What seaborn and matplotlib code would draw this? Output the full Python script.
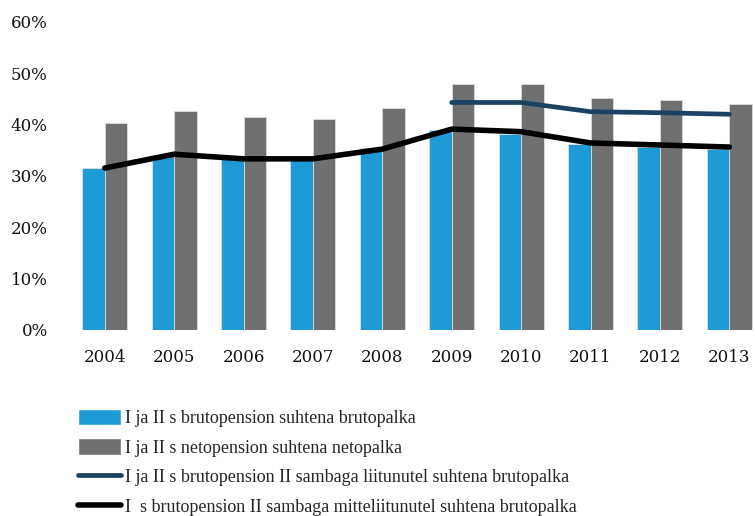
# Pension replacement rates 2004-2013 (bars + lines)

import numpy as np
import pandas as pd
import matplotlib
matplotlib.use("Agg")
import matplotlib.pyplot as plt
import seaborn as sns
from matplotlib.patches import Patch
from matplotlib.lines import Line2D
from matplotlib.ticker import FuncFormatter

# ---------- data ----------
years = ["2004", "2005", "2006", "2007", "2008", "2009", "2010", "2011", "2012", "2013"]
bruto = [31.6, 33.8, 33.2, 33.2, 35.4, 38.9, 38.2, 36.2, 35.6, 35.2]
neto = [40.3, 42.6, 41.4, 41.1, 43.3, 47.9, 47.9, 45.2, 44.8, 44.0]
liitunud_years = ["2009", "2010", "2011", "2012", "2013"]
liitunud = [44.3, 44.3, 42.5, 42.3, 42.0]
mitteliitunud = [31.5, 34.2, 33.3, 33.3, 35.2, 39.1, 38.6, 36.4, 36.0, 35.6]

labels = ["I ja II s brutopension suhtena brutopalka",
          "I ja II s netopension suhtena netopalka",
          "I ja II s brutopension II sambaga liitunutel suhtena brutopalka",
          "I  s brutopension II sambaga mitteliitunutel suhtena brutopalka"]

c_blue, c_gray, c_navy, c_black = "#1e9ad6", "#6f7072", "#1b4262", "#000000"

# ---------- frames ----------
bars = pd.DataFrame({
    "year": years * 2,
    "value": np.array(bruto + neto) / 100,
    "series": [labels[0]] * len(years) + [labels[1]] * len(years),
})
pos = {y: i for i, y in enumerate(years)}
line1 = pd.DataFrame({"x": [pos[y] for y in liitunud_years], "v": np.array(liitunud) / 100})
line2 = pd.DataFrame({"x": [pos[y] for y in years], "v": np.array(mitteliitunud) / 100})

# ---------- plot ----------
sns.set_style("white")
plt.rcParams["font.family"] = ["DejaVu Serif"]

fig = plt.figure(figsize=(7.55, 5.16), dpi=100)
ax = fig.add_axes([70 / 755, (516 - 329.5) / 516, 694 / 755, (329.5 - 22) / 516])

sns.barplot(data=bars, x="year", y="value", hue="series", order=years,
            palette=[c_blue, c_gray], saturation=1, width=0.65, ax=ax,
            edgecolor="#dddddd", linewidth=0.6, legend=False)
sns.lineplot(data=line1, x="x", y="v", color=c_navy, lw=3.4, ax=ax,
             solid_capstyle="round")
sns.lineplot(data=line2, x="x", y="v", color=c_black, lw=4.0, ax=ax,
             solid_capstyle="round")

ax.set_xlim(-0.5, len(years) - 0.5)
ax.set_ylim(0, 0.6)
ax.set_yticks(np.arange(0, 0.61, 0.1))
ax.yaxis.set_major_formatter(FuncFormatter(lambda v, _: f"{v * 100:.0f}%"))
ax.set_xticks(range(len(years)))
ax.set_xticklabels(years)
ax.set_xlabel("")
ax.set_ylabel("")
ax.tick_params(axis="both", length=0, labelsize=12, colors="#111111")
ax.tick_params(axis="x", pad=14)
ax.tick_params(axis="y", pad=16)
for s in ax.spines.values():
    s.set_visible(False)

handles = [Patch(facecolor=c_blue), Patch(facecolor=c_gray),
           Line2D([], [], color=c_navy, lw=3.4, solid_capstyle="round"),
           Line2D([], [], color=c_black, lw=4.0, solid_capstyle="round")]
fig.legend(handles, labels, loc="upper left", bbox_to_anchor=(78 / 755, 1 - 409 / 516),
           frameon=False, prop={"family": "Liberation Serif", "size": 13},
           handlelength=2.4, handleheight=1.0, handletextpad=0.2, labelspacing=0.62,
           borderaxespad=0, borderpad=0)

fig.savefig("out.png", dpi=100)
